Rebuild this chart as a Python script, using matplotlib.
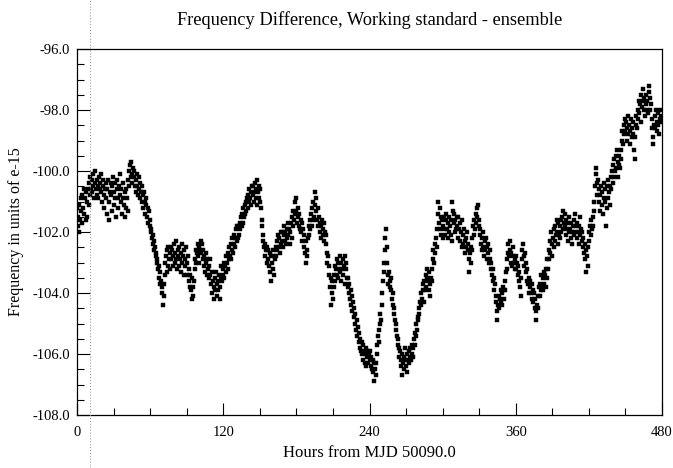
import matplotlib
matplotlib.use("Agg")
import matplotlib.pyplot as plt
import numpy as np
from matplotlib.lines import Line2D
from matplotlib.ticker import MultipleLocator, FormatStrFormatter

plt.rcParams["font.family"] = ["Liberation Serif", "DejaVu Serif"]

# readings every half hour, hours from MJD 50090.0 (0 .. 480)
hours_step = 0.5
freq = [
    -101.2, -101.8, -101.5, -102.0, -101.1, -101.6, -100.9, -101.3, -101.7, -100.8, -101.2, -100.6,
    -101.4, -100.9, -101.6, -100.7, -101.0, -101.5, -100.6, -101.1, -100.4, -100.8, -100.2, -100.6,
    -100.3, -100.7, -100.1, -100.5, -100.9, -100.4, -100.0, -100.6, -100.8, -100.3, -100.5, -100.9,
    -100.2, -100.6, -100.4, -100.1, -100.7, -101.0, -100.5, -100.3, -100.8, -101.2, -100.6, -100.4,
    -100.9, -101.4, -100.6, -100.3, -101.0, -101.6, -100.7, -100.4, -100.8, -101.3, -100.5, -100.2,
    -100.7, -101.1, -100.9, -100.4, -101.5, -100.6, -100.3, -100.9, -101.2, -100.5, -100.1, -100.8,
    -101.0, -100.6, -101.4, -100.9, -100.4, -101.1, -100.7, -101.5, -101.2, -100.6, -100.9, -101.3,
    -100.3, -100.0, -100.5, -99.8, -100.2, -99.7, -100.1, -100.4, -99.9, -100.2, -100.0, -100.5,
    -100.3, -100.7, -100.1, -100.5, -100.8, -100.2, -100.6, -100.9, -100.4, -100.7, -101.0, -100.5,
    -100.8, -101.2, -100.7, -101.0, -101.4, -100.9, -101.1, -101.5, -101.2, -101.7, -101.3, -101.6,
    -101.8, -102.0, -101.9, -102.2, -102.1, -102.4, -102.3, -102.6, -102.5, -102.8, -102.7, -103.0,
    -102.9, -103.2, -103.1, -103.5, -103.3, -103.7, -103.6, -104.0, -103.8, -104.4, -104.1, -103.7,
    -103.4, -103.0, -102.8, -103.3, -102.6, -103.1, -102.5, -102.9, -102.7, -103.2, -102.5, -102.9,
    -102.6, -103.1, -102.8, -102.4, -103.0, -102.7, -102.3, -102.9, -103.2, -102.6, -102.8, -103.1,
    -102.5, -102.9, -103.3, -102.7, -102.4, -103.0, -102.8, -103.4, -102.6, -103.1, -102.9, -102.5,
    -103.0, -103.4, -102.8, -103.6, -103.2, -103.8, -103.4, -103.9, -103.5, -104.2, -103.8, -104.1,
    -103.6, -103.2, -102.9, -102.6, -103.0, -102.7, -102.4, -102.8, -102.5, -103.0, -102.6, -102.3,
    -102.7, -102.4, -102.9, -102.6, -103.1, -102.8, -103.3, -102.7, -103.0, -103.4, -102.9, -103.2,
    -103.5, -103.1, -102.9, -103.4, -103.7, -103.3, -104.0, -103.6, -103.8, -104.2, -103.5, -103.9,
    -103.3, -103.7, -104.1, -103.6, -103.9, -103.4, -104.2, -103.8, -103.5, -103.1, -103.6, -103.2,
    -103.4, -103.0, -103.5, -103.1, -102.8, -103.3, -103.0, -102.7, -103.2, -102.9, -102.5, -102.8,
    -102.4, -102.9, -102.6, -102.2, -102.7, -102.4, -102.1, -102.5, -102.2, -101.9, -102.3, -101.8,
    -102.2, -101.8, -102.1, -101.7, -101.9, -101.5, -101.8, -101.4, -101.7, -101.2, -101.5, -101.1,
    -101.4, -101.0, -101.3, -100.9, -101.2, -100.8, -101.0, -100.6, -100.9, -101.1, -100.7, -100.5,
    -100.8, -100.5, -101.0, -100.7, -100.4, -100.9, -100.6, -101.1, -100.3, -100.7, -100.5, -100.9,
    -100.6, -101.0, -101.2, -101.6, -101.8, -102.1, -102.3, -102.5, -102.4, -102.8, -102.6, -103.0,
    -102.5, -102.9, -102.6, -103.1, -102.7, -103.3, -102.8, -103.6, -103.0, -102.6, -103.2, -102.8,
    -103.4, -102.9, -102.5, -102.8, -102.3, -102.6, -102.1, -102.5, -102.2, -102.7, -102.0, -102.4,
    -102.3, -102.0, -102.5, -102.1, -101.8, -102.3, -102.0, -102.4, -101.9, -102.2, -101.7, -102.1,
    -101.9, -102.4, -102.0, -101.7, -102.2, -101.5, -101.8, -101.3, -101.6, -101.0, -101.4, -100.9,
    -101.3, -101.7, -101.2, -101.5, -101.8, -101.4, -101.9, -101.6, -102.0, -101.7, -102.3, -101.9,
    -102.5, -102.1, -102.7, -102.3, -103.0, -102.6, -102.8, -102.2, -101.8, -102.1, -101.6, -101.9,
    -101.4, -101.8, -101.2, -101.6, -101.0, -101.5, -100.7, -101.1, -101.3, -100.9, -101.6, -101.2,
    -101.8, -101.5, -102.0, -101.7, -102.2, -101.8, -101.6, -102.1, -101.9, -102.3, -101.7, -102.0,
    -102.4, -102.1, -102.7, -103.0, -102.8, -103.4, -103.1, -103.8, -103.5, -104.4, -104.0, -103.6,
    -104.2, -103.8, -103.4, -103.1, -103.6, -103.2, -102.9, -103.4, -103.0, -103.5, -103.2, -102.8,
    -103.3, -103.0, -103.6, -103.2, -102.9, -103.4, -103.1, -103.7, -102.8, -103.2, -103.0, -103.5,
    -103.8, -103.5, -104.0, -103.7, -104.2, -103.9, -104.4, -104.1, -104.6, -104.3, -104.8, -104.5,
    -105.0, -104.7, -105.2, -104.9, -105.4, -105.1, -105.6, -105.3, -105.8, -105.5, -105.9, -105.6,
    -106.0, -105.7, -106.2, -105.9, -106.3, -106.0, -105.8, -106.4, -106.1, -105.9, -106.3, -106.0,
    -106.2, -105.9, -106.4, -106.1, -106.5, -106.2, -106.6, -106.3, -106.9, -106.5, -106.7, -106.3,
    -106.0, -105.7, -105.4, -105.6, -105.2, -105.0, -104.7, -104.9, -104.4, -104.0, -103.6, -103.3,
    -103.0, -102.6, -102.2, -101.9, -102.5, -103.0, -103.4, -103.7, -103.3, -103.6, -103.8, -103.5,
    -103.9, -104.2, -104.0, -104.4, -104.7, -104.5, -104.9, -105.2, -105.0, -105.4, -105.7, -105.5,
    -105.8, -106.1, -105.9, -106.4, -106.2, -106.7, -106.0, -106.3, -106.5, -106.1, -105.8, -106.2,
    -106.4, -106.0, -106.6, -106.2, -105.9, -106.3, -106.1, -105.8, -106.2, -106.0, -105.7, -106.1,
    -105.8, -105.5, -105.7, -105.3, -105.4, -105.0, -105.2, -104.8, -104.9, -104.5, -104.7, -104.3,
    -104.4, -104.0, -104.2, -103.7, -103.9, -104.3, -103.6, -103.9, -103.4, -103.8, -103.5, -103.2,
    -103.6, -103.9, -103.3, -103.7, -104.1, -103.5, -103.2, -103.6, -102.9, -102.6, -103.0, -102.4,
    -102.7, -102.2, -102.5, -101.9, -101.0, -101.4, -101.7, -101.2, -101.9, -101.5, -102.1, -101.6,
    -101.8, -102.2, -101.5, -101.9, -102.1, -101.6, -101.4, -101.9, -102.2, -101.7, -102.0, -101.5,
    -101.8, -102.1, -101.6, -102.3, -101.0, -101.3, -101.7, -101.4, -102.0, -101.6, -101.9, -101.5,
    -101.8, -102.2, -101.5, -101.9, -102.3, -101.7, -102.0, -102.5, -101.6, -102.1, -102.4, -101.9,
    -102.3, -102.7, -102.2, -102.5, -102.0, -102.6, -102.4, -102.9, -103.3, -102.7, -103.0, -102.5,
    -102.6, -102.2, -101.8, -102.1, -101.6, -101.9, -101.4, -101.7, -101.2, -101.5, -101.1, -101.6,
    -101.8, -102.1, -101.9, -102.4, -102.2, -102.6, -102.0, -102.5, -102.8, -102.3, -102.6, -102.2,
    -102.5, -102.9, -102.4, -102.7, -103.0, -102.6, -102.9, -103.2, -103.0, -103.4, -103.2, -103.6,
    -103.5, -103.9, -103.7, -104.1, -104.3, -104.6, -104.9, -104.4, -104.1, -104.5, -104.2, -103.9,
    -104.3, -104.0, -104.4, -103.8, -104.2, -103.9, -103.6, -103.9, -103.3, -102.9, -103.2, -102.7,
    -102.4, -102.8, -102.3, -102.6, -103.0, -102.7, -103.1, -102.8, -102.5, -103.0, -103.2, -102.9,
    -103.2, -102.8, -103.0, -103.4, -103.1, -103.6, -103.3, -103.8, -104.1, -103.5, -102.9, -102.6,
    -102.4, -102.8, -103.1, -102.7, -103.3, -103.0, -103.6, -103.2, -103.7, -104.0, -103.5, -103.8,
    -103.6, -104.0, -103.7, -104.2, -103.9, -104.3, -104.0, -104.5, -104.2, -104.6, -104.9, -104.4,
    -104.1, -104.5, -103.8, -104.1, -103.7, -103.9, -103.4, -103.8, -103.5, -103.9, -103.3, -103.7,
    -103.4, -103.8, -103.2, -103.5, -102.9, -103.2, -102.6, -102.9, -102.3, -102.7, -102.0, -102.4,
    -102.8, -102.2, -102.5, -101.9, -102.3, -101.8, -102.1, -101.6, -102.0, -102.4, -101.7, -102.1,
    -101.8, -102.2, -101.6, -102.0, -101.5, -101.9, -101.3, -101.7, -101.4, -101.8, -102.1, -101.6,
    -101.9, -102.3, -101.7, -102.0, -101.5, -101.9, -102.2, -101.7, -102.0, -102.4, -101.8, -102.1,
    -101.6, -102.0, -101.4, -101.8, -102.2, -101.7, -102.0, -102.4, -101.8, -102.1, -101.5, -101.9,
    -102.3, -102.0, -102.5, -102.2, -102.7, -102.4, -102.9, -102.6, -103.3, -102.8, -103.1, -102.5,
    -102.3, -102.0, -101.8, -102.1, -101.6, -101.9, -101.5, -101.8, -101.3, -101.0, -100.5, -100.1,
    -99.9, -100.4, -100.8, -100.3, -101.0, -100.6, -101.3, -100.8, -100.5, -101.1, -100.7, -101.4,
    -100.9, -100.4, -101.0, -100.6, -101.8, -101.2, -100.5, -100.9, -100.3, -100.7, -101.1, -100.5,
    -100.2, -100.6, -100.0, -100.4, -99.8, -100.2, -99.6, -100.0, -99.5, -99.9, -99.3, -99.7,
    -100.2, -99.8, -99.5, -99.9, -99.3, -99.6, -99.0, -98.7, -99.1, -98.5, -98.8, -98.3,
    -98.7, -98.4, -99.0, -98.6, -98.2, -98.8, -98.5, -99.1, -98.7, -98.3, -98.6, -98.9,
    -98.4, -98.8, -99.3, -99.6, -98.9, -98.5, -98.2, -98.6, -98.0, -98.3, -97.7, -98.1,
    -97.8, -98.4, -97.5, -97.9, -97.3, -97.7, -98.0, -97.6, -98.2, -97.8, -97.5, -98.0,
    -97.7, -98.1, -97.4, -97.2, -97.6, -98.0, -97.8, -98.3, -98.6, -98.9, -99.1, -98.5,
    -98.2, -98.6, -98.0, -98.4, -98.7, -98.1, -98.5, -98.8, -98.3, -98.0, -98.4, -98.2,
    -98.3,
]
hours = np.arange(len(freq)) * hours_step

title = "Frequency Difference, Working standard - ensemble"
xlabel = "Hours from MJD 50090.0"
ylabel = "Frequency in units of e-15"

fig = plt.figure(figsize=(6.73, 4.68), dpi=100)
ax = fig.add_axes([77 / 673, 1 - 415 / 468, 585 / 673, 366 / 468])

ax.plot(hours, freq, linestyle="none", marker="s", markersize=2.2,
        markerfacecolor="black", markeredgecolor="black", markeredgewidth=0.3)

ax.set_xlim(0, 480)
ax.set_ylim(-108, -96)
ax.xaxis.set_major_locator(MultipleLocator(120))
ax.xaxis.set_minor_locator(MultipleLocator(30))
ax.yaxis.set_major_locator(MultipleLocator(2))
ax.yaxis.set_minor_locator(MultipleLocator(0.5))
ax.yaxis.set_major_formatter(FormatStrFormatter("%.1f"))

ax.tick_params(which="both", direction="in", top=False, right=False,
               labelsize=10.5, color="black", width=0.8)
ax.tick_params(which="major", length=9)
ax.tick_params(which="minor", length=5)
ax.tick_params(axis="x", pad=8)
ax.tick_params(axis="y", pad=5)
for s in ax.spines.values():
    s.set_linewidth(0.9)

ax.set_title(title, fontsize=13.2, pad=17)
ax.set_xlabel(xlabel, fontsize=12, labelpad=4)
ax.set_ylabel(ylabel, fontsize=11.5, labelpad=6)

# faint vertical fold line from the scanned original
fig.add_artist(Line2D([90 / 673, 90 / 673], [0, 1], transform=fig.transFigure,
                      color="0.55", linestyle=(0, (1, 2)), linewidth=0.7))

fig.savefig("out.png", dpi=100)
